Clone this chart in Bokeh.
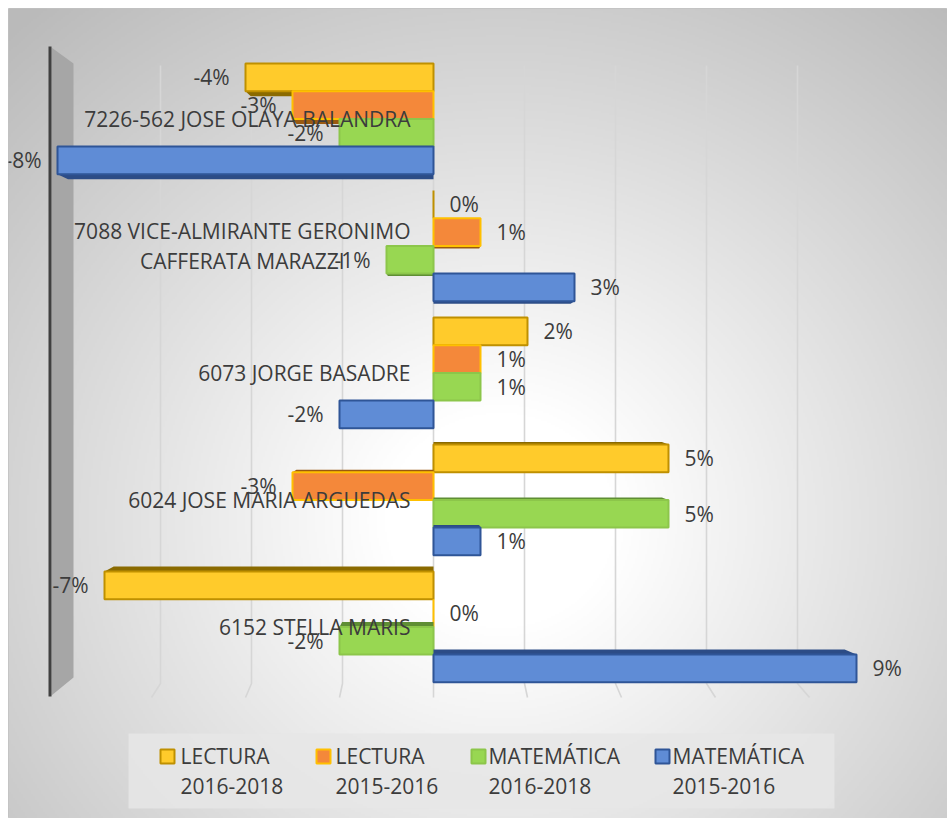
import numpy as np
from bokeh.plotting import figure
from bokeh.models import Range1d, ColumnDataSource
from bokeh.embed import file_html
from bokeh.resources import INLINE
from bokeh.core.properties import value

# ---------------- data ----------------
schools = [
    "7226-562 JOSE OLAYA BALANDRA",
    "7088 VICE-ALMIRANTE GERONIMO\nCAFFERATA MARAZZI",
    "6073 JORGE BASADRE",
    "6024 JOSE MARIA ARGUEDAS",
    "6152 STELLA MARIS",
]
series_names = ["LECTURA\n2016-2018", "LECTURA\n2015-2016",
                "MATEMÁTICA\n2016-2018", "MATEMÁTICA\n2015-2016"]
lectura_2016_2018 = [-4, 0, 2, 5, -7]
lectura_2015_2016 = [-3, 1, 1, -3, 0]
matematica_2016_2018 = [-2, -1, 1, 5, -2]
matematica_2015_2016 = [-8, 3, -2, 1, 9]
series_values = [lectura_2016_2018, lectura_2015_2016,
                 matematica_2016_2018, matematica_2015_2016]
grid_values = [-6, -4, -2, 0, 2, 4, 6, 8]

# ---------------- styles ----------------
fills = ["#FFCB2B", "#F4883A", "#98D752", "#5F8CD6"]
lines = ["#BF9000", "#FFC000", "#8CC64A", "#2F5597"]
depths = ["#8A6A00", "#9A5A10", "#5F8E34", "#2C4C86"]
TXT = "#3c3c3c"
FONT = value("Open Sans")
FS = value("21px")

# ---------------- layout (screen px -> data) ----------------
W, H = 947, 818
M = 8                # white margin top/left inside the canvas
ZERO_SX = 433.0
PX = 47.0            # px per percent (front plane)
BACK = 45.5 / 47.0   # back plane scale
BAR_PX = 27.7
GROUP_PX = 127.0
TOP_SY = 63.0
GU = GROUP_PX / BAR_PX


def X(sx):
    return (sx - ZERO_SX) / PX


def Y(sy):
    return -(sy - TOP_SY) / BAR_PX


p = figure(width=W, height=H, output_backend="svg", toolbar_location=None,
           x_range=Range1d(X(M), X(W)), y_range=Range1d(Y(H), Y(M)),
           x_axis_location=None, y_axis_location=None,
           min_border_left=M, min_border_top=M, min_border_right=0, min_border_bottom=0,
           background_fill_color="#d0d0d0", border_fill_color="white",
           outline_line_color="#c2c2c2")
p.grid.visible = False

# background radial gradient
FW, FH = W - M, H - M
hh, ww = FH // 2, FW // 2
yy, xx = np.mgrid[0:hh, 0:ww]
sx = M + (xx + 0.5) * FW / ww
sy = M + (yy + 0.5) * FH / hh
d = np.hypot((sx - 500) / 640.0, (sy - 520) / 600.0)
c = 255 - 60 * np.clip((d - 0.18) / 0.82, 0, 1.15)
img = np.empty((hh, ww), dtype=np.uint32)
view = img.view(dtype=np.uint8).reshape((hh, ww, 4))
view[..., 0] = c
view[..., 1] = c
view[..., 2] = c
view[..., 3] = 255
p.image_rgba(image=[img[::-1]], x=X(M), y=Y(H), dw=FW / PX, dh=FH / BAR_PX)

# gridlines (back plane + floor)
gx, gy = [], []
for v in grid_values:
    gx.append([v * BACK, v * BACK, v])
    gy.append([Y(65), Y(683), Y(697)])
p.multi_line(xs=gx, ys=gy, line_color="#d6d6d6", line_width=1.6)

# side wall
p.patch(x=[X(51), X(73), X(73), X(51)], y=[Y(47), Y(63), Y(677), Y(695)],
        fill_color="#a6a6a6", line_color=None)
p.segment(x0=[X(49.5)], y0=[Y(46)], x1=[X(49.5)], y1=[Y(696)],
          line_color="#404040", line_width=3)

# bars
for sj, vals in enumerate(series_values):
    tops = [-(gi * GU + sj) for gi in range(len(vals))]
    bottoms = [t - 1 for t in tops]
    # depth strips
    pxs, pys = [], []
    for gi, v in enumerate(vals):
        t = 2.5 * abs(gi - 2) / BAR_PX
        if t == 0 or v == 0:
            continue
        if gi < 2:
            e, o = bottoms[gi], bottoms[gi] - t
        else:
            e, o = tops[gi], tops[gi] + t
        pxs.append([0, v, v * 0.972, 0])
        pys.append([e, e, o, o])
    if pxs:
        p.patches(xs=pxs, ys=pys, fill_color=depths[sj], line_color=None)
    src = ColumnDataSource(dict(
        left=[min(0, v) for v in vals], right=[max(0, v) for v in vals],
        top=tops, bottom=bottoms))
    p.quad(left="left", right="right", top="top", bottom="bottom", source=src,
           fill_color=fills[sj], line_color=lines[sj], line_width=2)

# data labels
gap = 16 / PX
pos = dict(x=[], y=[], t=[])
neg = dict(x=[], y=[], t=[])
for sj, vals in enumerate(series_values):
    for gi, v in enumerate(vals):
        yc = -(gi * GU + sj) - 0.5
        d_ = pos if v >= 0 else neg
        d_["x"].append(v + gap if v >= 0 else v - gap)
        d_["y"].append(yc)
        d_["t"].append(f"{v:.0f}%")
p.text(x=pos["x"], y=pos["y"], text=pos["t"], text_font=FONT, text_font_size=FS,
       text_color=TXT, text_align="left", text_baseline="middle")
p.text(x=neg["x"], y=neg["y"], text=neg["t"], text_font=FONT, text_font_size=FS,
       text_color=TXT, text_align="right", text_baseline="middle")

# category labels
centers = [-(gi * GU + 2) for gi in range(len(schools))]
p.text(x=[X(410)] * len(schools), y=centers, text=schools, text_font=FONT,
       text_font_size=FS, text_color=TXT, text_align="center",
       anchor=value("center_right"), text_line_height=1.05)

# legend
p.quad(left=[X(128)], right=[X(834)], top=[Y(733)], bottom=[Y(808)],
       fill_color="#e6e6e6", fill_alpha=0.85, line_color=None)
mark_sx = [160, 316, 471, 655]
text_sx = [180, 335, 488, 672]
p.quad(left=[X(s) for s in mark_sx], right=[X(s + 14) for s in mark_sx],
       top=[Y(749)] * 4, bottom=[Y(763)] * 4, fill_color=fills,
       line_color=lines, line_width=2)
p.text(x=[X(s) for s in text_sx], y=[Y(755)] * 4,
       text=[n.split("\n")[0] for n in series_names], text_font=FONT,
       text_font_size=FS, text_color=TXT, text_align="left", text_baseline="middle")
p.text(x=[X(s) for s in text_sx], y=[Y(785)] * 4,
       text=[n.split("\n")[1] for n in series_names], text_font=FONT,
       text_font_size=FS, text_color=TXT, text_align="left", text_baseline="middle")

open("out.html", "w").write(file_html(p, INLINE))
